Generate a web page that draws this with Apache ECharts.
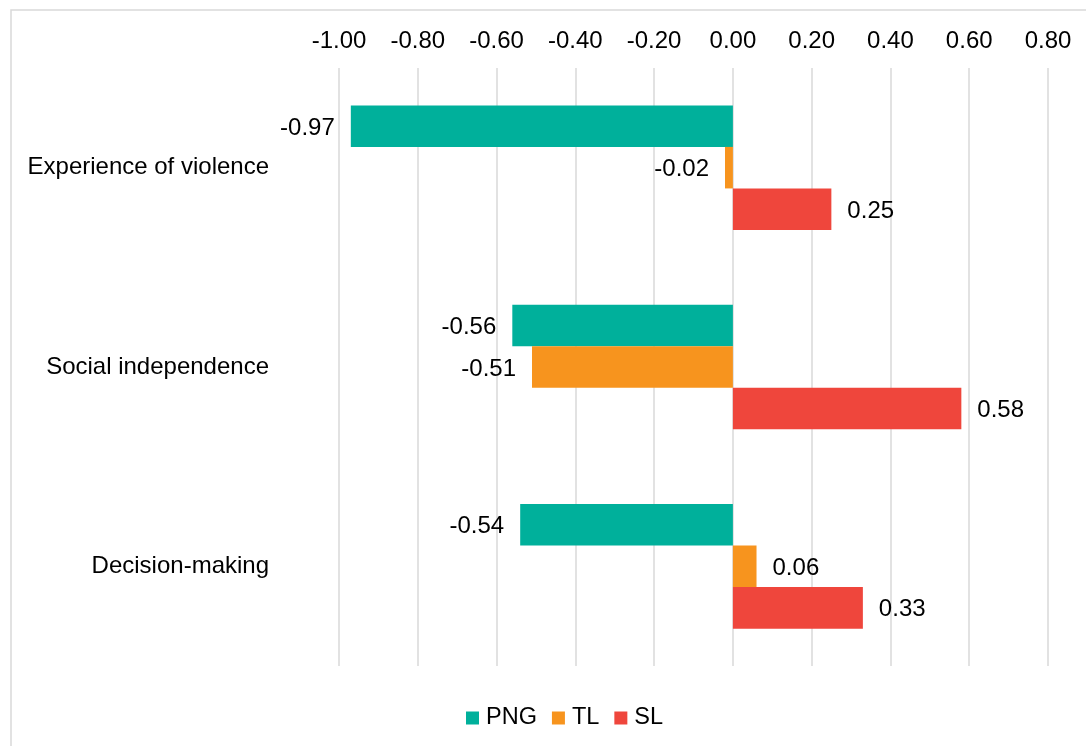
<!DOCTYPE html>
<html>
<head>
<meta charset="utf-8">
<script src="https://cdn.jsdelivr.net/npm/echarts@6/dist/echarts.min.js"></script>
<style>
  html, body { margin: 0; padding: 0; background: #fff; }
  #chart { width: 1086px; height: 746px; }
</style>
</head>
<body>
<div id="chart"></div>
<script>
var categories = ['Experience of violence', 'Social independence', 'Decision-making'];
var seriesNames = ['PNG', 'TL', 'SL'];
var pngValues = [-0.97, -0.56, -0.54];
var tlValues = [-0.02, -0.51, 0.06];
var slValues = [0.25, 0.58, 0.33];
var colors = ['#00B09B', '#F7941E', '#EF463C'];

var myChart = echarts.init(document.getElementById('chart'));

function makeSeries(name, values, color) {
    return {
        name: name,
        type: 'bar',
        barGap: '0%',
        barCategoryGap: '37.5%',
        itemStyle: { color: color },
        data: values.map(function (v) {
            return {
                value: v,
                label: { position: v < 0 ? 'left' : 'right' }
            };
        }),
        label: {
            show: true,
            distance: 16,
            offset: [0, 2],
            color: '#000',
            fontSize: 24,
            fontFamily: 'Liberation Sans',
            formatter: function (p) { return p.value.toFixed(2); }
        }
    };
}

var option = {
    animation: false,
    color: colors,
    textStyle: { fontFamily: 'Liberation Sans' },
    graphic: [{
        type: 'rect',
        shape: { x: 11, y: 10, width: 1100, height: 760 },
        style: { fill: 'none', stroke: '#d9d9d9', lineWidth: 1.5 },
        silent: true
    }],
    legend: {
        data: seriesNames,
        bottom: 11,
        left: 461,
        icon: 'rect',
        itemWidth: 13,
        itemHeight: 13,
        itemGap: 15,
        textStyle: { fontSize: 23.5, color: '#000', fontFamily: 'Liberation Sans', padding: [0, 0, 0, 2] }
    },
    grid: {
        left: 339,
        right: 38,
        top: 68,
        bottom: 80
    },
    xAxis: {
        type: 'value',
        position: 'top',
        min: -1.0,
        max: 0.8,
        interval: 0.2,
        axisLine: { show: false },
        axisTick: { show: false },
        axisLabel: {
            margin: 15,
            fontSize: 24,
            color: '#000',
            formatter: function (v) { return v.toFixed(2); }
        },
        splitLine: { lineStyle: { color: '#d9d9d9', width: 1.5 } }
    },
    yAxis: {
        type: 'category',
        inverse: true,
        data: categories,
        axisLine: { show: false },
        axisTick: { show: false },
        axisLabel: {
            margin: 70,
            fontSize: 24,
            color: '#000'
        }
    },
    series: [
        makeSeries(seriesNames[0], pngValues, colors[0]),
        makeSeries(seriesNames[1], tlValues, colors[1]),
        makeSeries(seriesNames[2], slValues, colors[2])
    ]
};

myChart.setOption(option);
</script>
</body>
</html>
